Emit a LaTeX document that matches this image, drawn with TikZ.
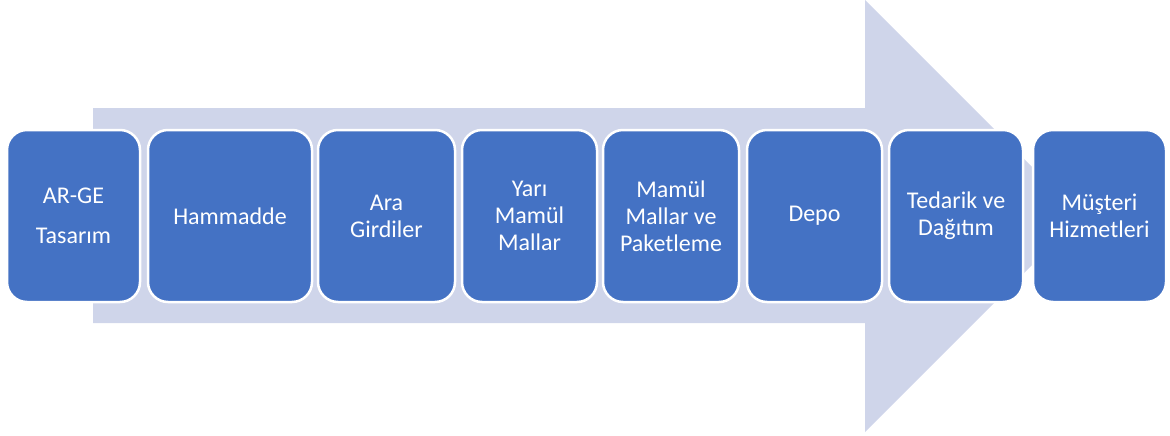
\documentclass[tikz,border=0pt]{standalone}
\usepackage{fontspec}
\setmainfont{Carlito}
\definecolor{arrowfill}{HTML}{CFD5EA}
\definecolor{boxfill}{HTML}{4472C4}
\tikzset{
  stagebox/.style={draw=white, line width=2.5pt, fill=boxfill, rounded corners=20pt,
    minimum height=172pt, inner sep=0pt, text=white, align=center,
    font=\fontsize{24pt}{27pt}\selectfont}
}
\begin{document}
\begin{tikzpicture}[x=1pt,y=-1pt]
\useasboundingbox (0,0) rectangle (1170,436);
\fill[arrowfill] (93,108) -- (865,108) -- (865,0) -- (1081,216) -- (865,432) -- (865,323) -- (93,323) -- cycle;
\node[stagebox, minimum width=133pt, font=\fontsize{24pt}{40pt}\selectfont] (b1) at (73.5,216) {AR-GE\\Tasarım};
\node[stagebox, minimum width=164pt] (b2) at (230,216) {Hammadde};
\node[stagebox, minimum width=137pt] (b3) at (386.5,216) {Ara\\Girdiler};
\node[stagebox, minimum width=135pt] (b4) at (529.5,216) {Yarı\\Mamül\\Mallar};
\node[stagebox, minimum width=136pt] (b5) at (671,216) {Mamül\\Mallar ve\\Paketleme};
\node[stagebox, minimum width=135pt] (b6) at (814.5,216) {Depo};
\node[stagebox, minimum width=134pt] (b7) at (956,216) {Tedarik ve\\Dağıtım};
\node[stagebox, minimum width=133pt] (b8) at (1099.5,216) {Müşteri\\Hizmetleri};
\end{tikzpicture}
\end{document}
